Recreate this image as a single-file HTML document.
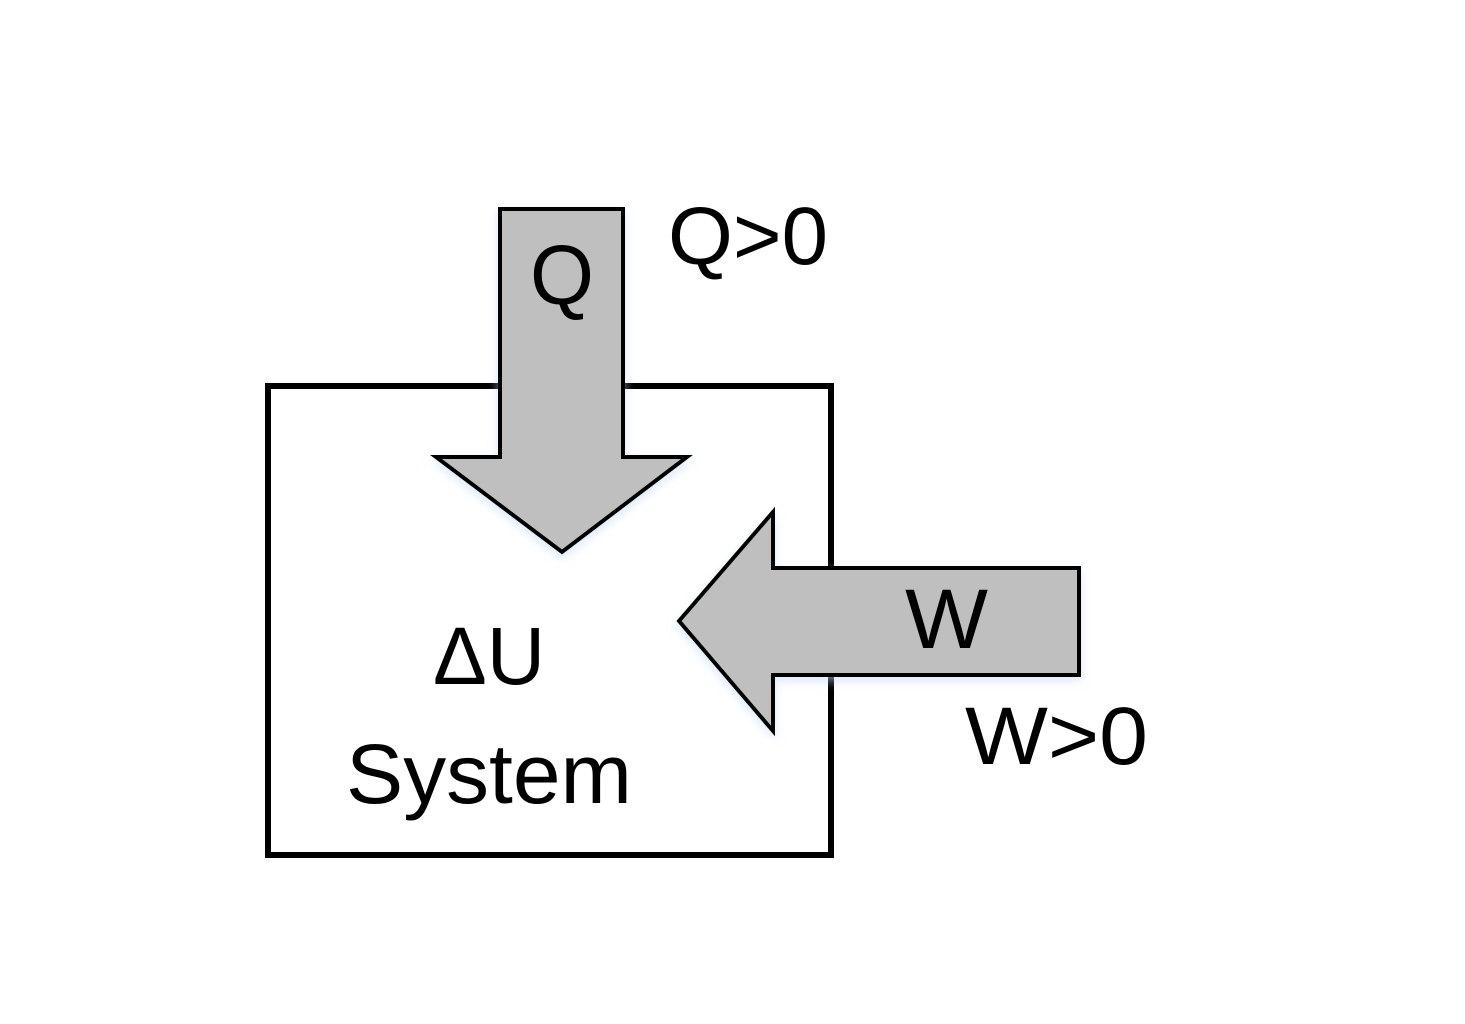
<!DOCTYPE html>
<html><head><meta charset="utf-8"><style>
html,body{margin:0;padding:0;background:#fff;width:1465px;height:1024px;overflow:hidden}
svg{display:block}
text{font-family:"Liberation Sans","DejaVu Sans",sans-serif;fill:#000}
</style></head><body>
<svg width="1465" height="1024" viewBox="0 0 1465 1024" xmlns="http://www.w3.org/2000/svg">
<defs>
<filter id="sh" x="-20%" y="-20%" width="140%" height="140%">
<feGaussianBlur in="SourceAlpha" stdDeviation="5"/>
<feOffset dx="0" dy="4"/>
<feColorMatrix type="matrix" values="0 0 0 0 0.55  0 0 0 0 0.7  0 0 0 0 0.9  0 0 0 0.6 0"/>
<feMerge><feMergeNode/><feMergeNode in="SourceGraphic"/></feMerge>
</filter>
</defs>
<rect x="268" y="386" width="563" height="469" fill="none" stroke="#000" stroke-width="6"/>
<polygon filter="url(#sh)" points="500,209 623,209 623,457 687,457 562,552 436,457 500,457" fill="#bfbfbf" stroke="#000" stroke-width="4"/>
<polygon filter="url(#sh)" points="1079,568 1079,675 773,675 773,731 679,621 773,512 773,568" fill="#bfbfbf" stroke="#000" stroke-width="4"/>
<text x="530" y="304" font-size="84" textLength="64" lengthAdjust="spacingAndGlyphs">Q</text>
<text x="668" y="264" font-size="82" textLength="160" lengthAdjust="spacingAndGlyphs">Q&gt;0</text>
<text x="905" y="648" font-size="84" textLength="83" lengthAdjust="spacingAndGlyphs">W</text>
<text x="965" y="764" font-size="82" textLength="183" lengthAdjust="spacingAndGlyphs">W&gt;0</text>
<text x="433" y="684" font-size="82" textLength="112" lengthAdjust="spacingAndGlyphs">ΔU</text>
<text x="346" y="803" font-size="84" textLength="286" lengthAdjust="spacingAndGlyphs">System</text>
</svg>
</body></html>
